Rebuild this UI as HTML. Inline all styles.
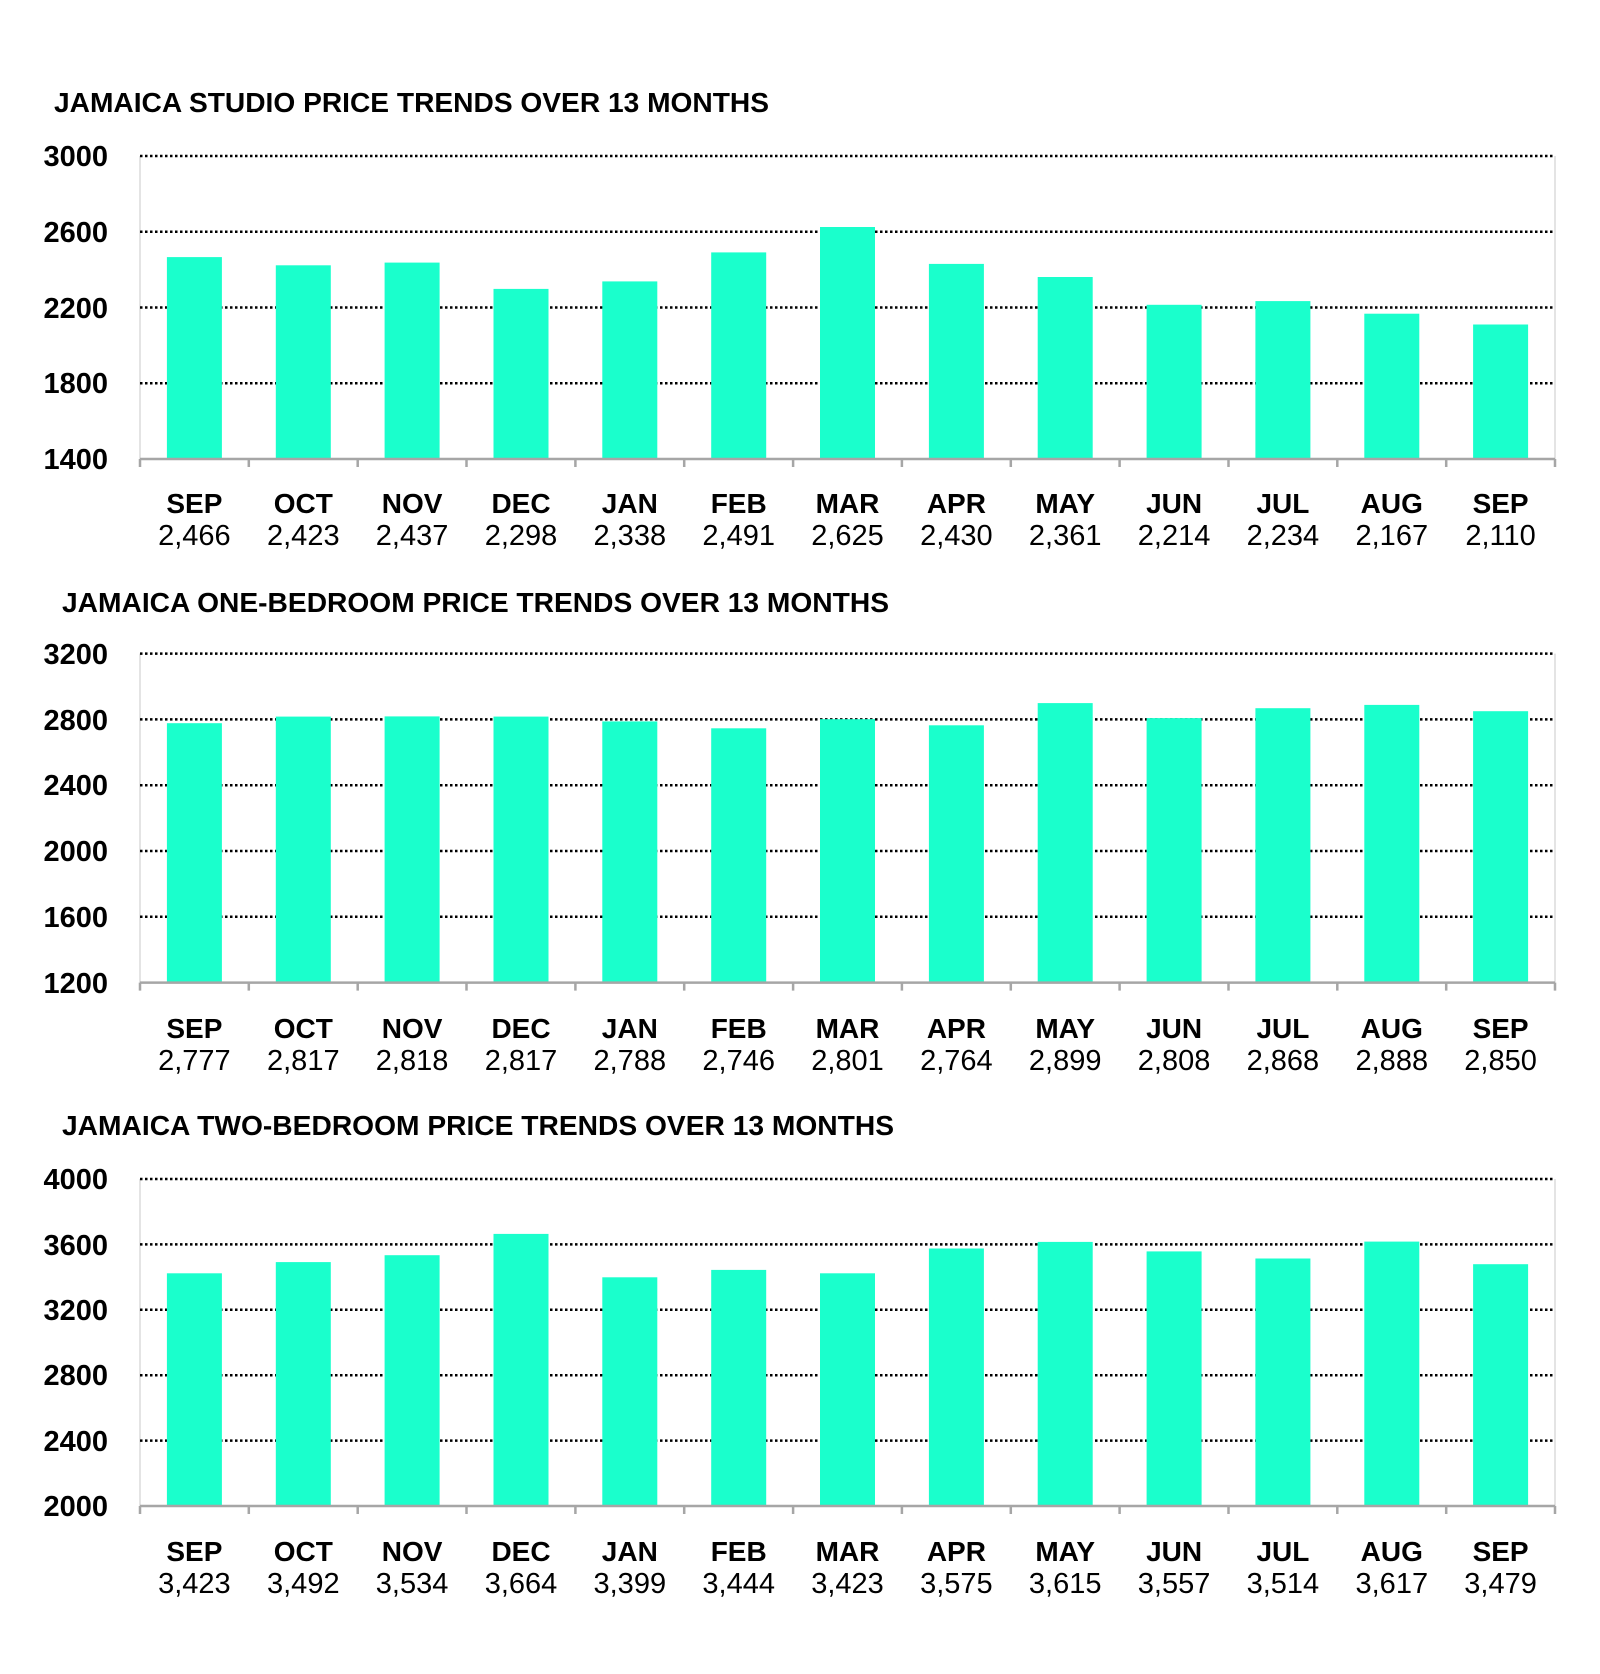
<!DOCTYPE html>
<html><head><meta charset="utf-8"><style>
html,body{margin:0;padding:0;background:#fff;}
svg{display:block;}
.t{font-family:"Liberation Sans",Arial,sans-serif;font-weight:bold;font-size:28px;fill:#000;}
.y{font-family:"Liberation Sans",Arial,sans-serif;font-weight:bold;font-size:29px;fill:#000;text-anchor:end;}
.m{font-family:"Liberation Sans",Arial,sans-serif;font-weight:bold;font-size:28px;fill:#000;text-anchor:middle;}
.v{font-family:"Liberation Sans",Arial,sans-serif;font-size:29px;fill:#000;text-anchor:middle;}
.g{stroke:#000;stroke-width:2.5;stroke-dasharray:2.5 2.5;}
.b{fill:#1affcc;}
.ax{stroke:#a6a6a6;stroke-width:2.5;fill:none;}
.vl{stroke:#dcdcdc;stroke-width:1.5;}
</style></head><body>
<svg width="1600" height="1674" viewBox="0 0 1600 1674" xmlns="http://www.w3.org/2000/svg">
<!-- Chart 1 -->
<text class="t" x="54" y="112" textLength="715" lengthAdjust="spacingAndGlyphs">JAMAICA STUDIO PRICE TRENDS OVER 13 MONTHS</text>
<line class="vl" x1="140" y1="156" x2="140" y2="459"/><line class="vl" x1="1555" y1="156" x2="1555" y2="459"/>
<line class="g" x1="140" y1="156" x2="1555" y2="156"/>
<line class="g" x1="140" y1="231.75" x2="1555" y2="231.75"/>
<line class="g" x1="140" y1="307.5" x2="1555" y2="307.5"/>
<line class="g" x1="140" y1="383.25" x2="1555" y2="383.25"/>
<text class="y" x="108" y="166">3000</text><text class="y" x="108" y="242">2600</text><text class="y" x="108" y="318">2200</text><text class="y" x="108" y="393">1800</text><text class="y" x="108" y="469">1400</text>
<rect class="b" x="166.9" y="257.1" width="55" height="201.9"/>
<rect class="b" x="275.8" y="265.3" width="55" height="193.7"/>
<rect class="b" x="384.6" y="262.6" width="55" height="196.4"/>
<rect class="b" x="493.5" y="288.9" width="55" height="170.1"/>
<rect class="b" x="602.3" y="281.4" width="55" height="177.6"/>
<rect class="b" x="711.2" y="252.4" width="55" height="206.6"/>
<rect class="b" x="820" y="227" width="55" height="232"/>
<rect class="b" x="928.9" y="263.9" width="55" height="195.1"/>
<rect class="b" x="1037.7" y="277" width="55" height="182"/>
<rect class="b" x="1146.6" y="304.8" width="55" height="154.2"/>
<rect class="b" x="1255.4" y="301.1" width="55" height="157.9"/>
<rect class="b" x="1364.3" y="313.7" width="55" height="145.3"/>
<rect class="b" x="1473.1" y="324.5" width="55" height="134.5"/>
<path class="ax" d="M140 459H1555M140 459v8M248.8 459v8M357.7 459v8M466.5 459v8M575.4 459v8M684.2 459v8M793.1 459v8M901.9 459v8M1010.8 459v8M1119.6 459v8M1228.5 459v8M1337.3 459v8M1446.2 459v8M1555 459v8"/>
<g><text class="m" x="194.4" y="513">SEP</text><text class="m" x="303.3" y="513">OCT</text><text class="m" x="412.1" y="513">NOV</text><text class="m" x="521" y="513">DEC</text><text class="m" x="629.8" y="513">JAN</text><text class="m" x="738.7" y="513">FEB</text><text class="m" x="847.5" y="513">MAR</text><text class="m" x="956.4" y="513">APR</text><text class="m" x="1065.2" y="513">MAY</text><text class="m" x="1174.1" y="513">JUN</text><text class="m" x="1282.9" y="513">JUL</text><text class="m" x="1391.8" y="513">AUG</text><text class="m" x="1500.6" y="513">SEP</text></g>
<g><text class="v" x="194.4" y="545">2,466</text><text class="v" x="303.3" y="545">2,423</text><text class="v" x="412.1" y="545">2,437</text><text class="v" x="521" y="545">2,298</text><text class="v" x="629.8" y="545">2,338</text><text class="v" x="738.7" y="545">2,491</text><text class="v" x="847.5" y="545">2,625</text><text class="v" x="956.4" y="545">2,430</text><text class="v" x="1065.2" y="545">2,361</text><text class="v" x="1174.1" y="545">2,214</text><text class="v" x="1282.9" y="545">2,234</text><text class="v" x="1391.8" y="545">2,167</text><text class="v" x="1500.6" y="545">2,110</text></g>

<!-- Chart 2 -->
<text class="t" x="62" y="612" textLength="827" lengthAdjust="spacingAndGlyphs">JAMAICA ONE-BEDROOM PRICE TRENDS OVER 13 MONTHS</text>
<line class="vl" x1="140" y1="653.6" x2="140" y2="982.6"/><line class="vl" x1="1555" y1="653.6" x2="1555" y2="982.6"/>
<line class="g" x1="140" y1="653.6" x2="1555" y2="653.6"/>
<line class="g" x1="140" y1="719.4" x2="1555" y2="719.4"/>
<line class="g" x1="140" y1="785.2" x2="1555" y2="785.2"/>
<line class="g" x1="140" y1="851" x2="1555" y2="851"/>
<line class="g" x1="140" y1="916.8" x2="1555" y2="916.8"/>
<text class="y" x="108" y="664">3200</text><text class="y" x="108" y="730">2800</text><text class="y" x="108" y="795">2400</text><text class="y" x="108" y="861">2000</text><text class="y" x="108" y="927">1600</text><text class="y" x="108" y="993">1200</text>
<rect class="b" x="166.9" y="723.2" width="55" height="259.4"/>
<rect class="b" x="275.8" y="716.6" width="55" height="266"/>
<rect class="b" x="384.6" y="716.4" width="55" height="266.2"/>
<rect class="b" x="493.5" y="716.6" width="55" height="266"/>
<rect class="b" x="602.3" y="721.4" width="55" height="261.2"/>
<rect class="b" x="711.2" y="728.3" width="55" height="254.3"/>
<rect class="b" x="820" y="719.2" width="55" height="263.4"/>
<rect class="b" x="928.9" y="725.3" width="55" height="257.3"/>
<rect class="b" x="1037.7" y="703.1" width="55" height="279.5"/>
<rect class="b" x="1146.6" y="718.1" width="55" height="264.5"/>
<rect class="b" x="1255.4" y="708.2" width="55" height="274.4"/>
<rect class="b" x="1364.3" y="704.9" width="55" height="277.7"/>
<rect class="b" x="1473.1" y="711.2" width="55" height="271.4"/>
<path class="ax" d="M140 982.6H1555M140 982.6v8M248.8 982.6v8M357.7 982.6v8M466.5 982.6v8M575.4 982.6v8M684.2 982.6v8M793.1 982.6v8M901.9 982.6v8M1010.8 982.6v8M1119.6 982.6v8M1228.5 982.6v8M1337.3 982.6v8M1446.2 982.6v8M1555 982.6v8"/>
<g><text class="m" x="194.4" y="1038">SEP</text><text class="m" x="303.3" y="1038">OCT</text><text class="m" x="412.1" y="1038">NOV</text><text class="m" x="521" y="1038">DEC</text><text class="m" x="629.8" y="1038">JAN</text><text class="m" x="738.7" y="1038">FEB</text><text class="m" x="847.5" y="1038">MAR</text><text class="m" x="956.4" y="1038">APR</text><text class="m" x="1065.2" y="1038">MAY</text><text class="m" x="1174.1" y="1038">JUN</text><text class="m" x="1282.9" y="1038">JUL</text><text class="m" x="1391.8" y="1038">AUG</text><text class="m" x="1500.6" y="1038">SEP</text></g>
<g><text class="v" x="194.4" y="1070">2,777</text><text class="v" x="303.3" y="1070">2,817</text><text class="v" x="412.1" y="1070">2,818</text><text class="v" x="521" y="1070">2,817</text><text class="v" x="629.8" y="1070">2,788</text><text class="v" x="738.7" y="1070">2,746</text><text class="v" x="847.5" y="1070">2,801</text><text class="v" x="956.4" y="1070">2,764</text><text class="v" x="1065.2" y="1070">2,899</text><text class="v" x="1174.1" y="1070">2,808</text><text class="v" x="1282.9" y="1070">2,868</text><text class="v" x="1391.8" y="1070">2,888</text><text class="v" x="1500.6" y="1070">2,850</text></g>

<!-- Chart 3 -->
<text class="t" x="62" y="1135" textLength="832" lengthAdjust="spacingAndGlyphs">JAMAICA TWO-BEDROOM PRICE TRENDS OVER 13 MONTHS</text>
<line class="vl" x1="140" y1="1179" x2="140" y2="1506"/><line class="vl" x1="1555" y1="1179" x2="1555" y2="1506"/>
<line class="g" x1="140" y1="1179" x2="1555" y2="1179"/>
<line class="g" x1="140" y1="1244.4" x2="1555" y2="1244.4"/>
<line class="g" x1="140" y1="1309.8" x2="1555" y2="1309.8"/>
<line class="g" x1="140" y1="1375.2" x2="1555" y2="1375.2"/>
<line class="g" x1="140" y1="1440.6" x2="1555" y2="1440.6"/>
<text class="y" x="108" y="1189">4000</text><text class="y" x="108" y="1255">3600</text><text class="y" x="108" y="1320">3200</text><text class="y" x="108" y="1385">2800</text><text class="y" x="108" y="1451">2400</text><text class="y" x="108" y="1516">2000</text>
<rect class="b" x="166.9" y="1273.3" width="55" height="232.7"/>
<rect class="b" x="275.8" y="1262.1" width="55" height="243.9"/>
<rect class="b" x="384.6" y="1255.2" width="55" height="250.8"/>
<rect class="b" x="493.5" y="1233.9" width="55" height="272.1"/>
<rect class="b" x="602.3" y="1277.3" width="55" height="228.7"/>
<rect class="b" x="711.2" y="1269.9" width="55" height="236.1"/>
<rect class="b" x="820" y="1273.3" width="55" height="232.7"/>
<rect class="b" x="928.9" y="1248.5" width="55" height="257.5"/>
<rect class="b" x="1037.7" y="1241.9" width="55" height="264.1"/>
<rect class="b" x="1146.6" y="1251.4" width="55" height="254.6"/>
<rect class="b" x="1255.4" y="1258.5" width="55" height="247.5"/>
<rect class="b" x="1364.3" y="1241.6" width="55" height="264.4"/>
<rect class="b" x="1473.1" y="1264.2" width="55" height="241.8"/>
<path class="ax" d="M140 1506H1555M140 1506v8M248.8 1506v8M357.7 1506v8M466.5 1506v8M575.4 1506v8M684.2 1506v8M793.1 1506v8M901.9 1506v8M1010.8 1506v8M1119.6 1506v8M1228.5 1506v8M1337.3 1506v8M1446.2 1506v8M1555 1506v8"/>
<g><text class="m" x="194.4" y="1561">SEP</text><text class="m" x="303.3" y="1561">OCT</text><text class="m" x="412.1" y="1561">NOV</text><text class="m" x="521" y="1561">DEC</text><text class="m" x="629.8" y="1561">JAN</text><text class="m" x="738.7" y="1561">FEB</text><text class="m" x="847.5" y="1561">MAR</text><text class="m" x="956.4" y="1561">APR</text><text class="m" x="1065.2" y="1561">MAY</text><text class="m" x="1174.1" y="1561">JUN</text><text class="m" x="1282.9" y="1561">JUL</text><text class="m" x="1391.8" y="1561">AUG</text><text class="m" x="1500.6" y="1561">SEP</text></g>
<g><text class="v" x="194.4" y="1593">3,423</text><text class="v" x="303.3" y="1593">3,492</text><text class="v" x="412.1" y="1593">3,534</text><text class="v" x="521" y="1593">3,664</text><text class="v" x="629.8" y="1593">3,399</text><text class="v" x="738.7" y="1593">3,444</text><text class="v" x="847.5" y="1593">3,423</text><text class="v" x="956.4" y="1593">3,575</text><text class="v" x="1065.2" y="1593">3,615</text><text class="v" x="1174.1" y="1593">3,557</text><text class="v" x="1282.9" y="1593">3,514</text><text class="v" x="1391.8" y="1593">3,617</text><text class="v" x="1500.6" y="1593">3,479</text></g>
</svg>
</body></html>
